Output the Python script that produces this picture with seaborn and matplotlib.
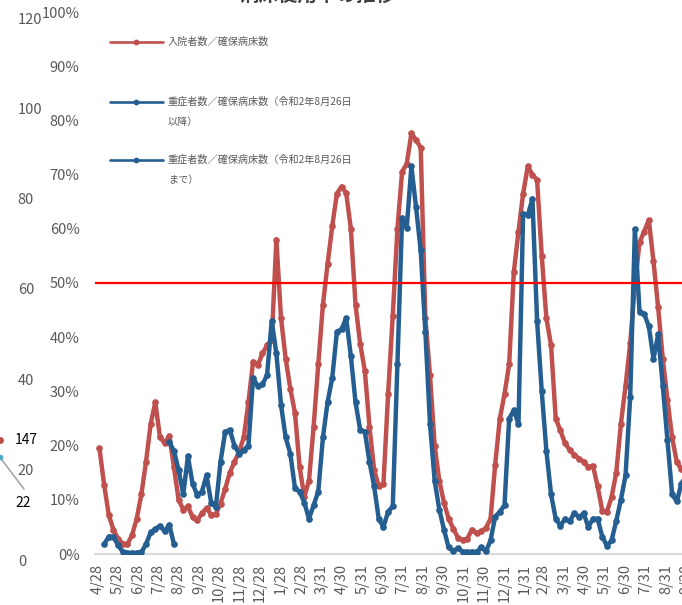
import pandas as pd
import matplotlib.pyplot as plt
from matplotlib.lines import Line2D
import seaborn as sns

# weekly values (%)
inpatient_start = "2020-05-01"
inpatient = [19.5, 12.8, 7.2, 4.5, 2.8, 1.9, 1.8, 3.5, 6.5, 11.0,
             17.0, 24.0, 28.0, 21.5, 20.5, 21.8, 16.0, 10.0, 8.2, 8.8,
             6.8, 6.2, 7.5, 8.5, 7.2, 7.4, 9.3, 12.0, 15.0, 17.0,
             18.9, 21.5, 28.0, 35.5, 34.8, 37.0, 38.5, 39.5, 58.0, 43.5,
             36.0, 30.5, 26.0, 16.0, 10.6, 13.5, 23.5, 35.0, 46.0, 53.5,
             60.5, 66.5, 67.8, 66.6, 60.0, 46.0, 38.8, 33.8, 23.5, 15.5,
             12.5, 13.0, 29.5, 44.0, 60.0, 70.5, 72.0, 77.6, 76.4, 75.0,
             43.5, 33.0, 20.0, 13.5, 9.5, 6.5, 4.7, 3.0, 2.6, 2.8,
             4.5, 3.8, 4.2, 4.8, 6.5, 16.5, 25.0, 29.5, 35.0, 52.0,
             59.5, 66.5, 71.5, 70.0, 69.0, 55.0, 43.5, 38.5, 25.0, 22.8,
             20.4, 19.2, 18.3, 17.6, 17.0, 16.0, 16.3, 12.5, 8.0, 7.8,
             10.5, 15.0, 24.0, 31.0, 38.9, 49.5, 57.5, 59.5, 61.6, 54.0,
             45.5, 36.0, 28.5, 21.5, 17.0, 15.6, 15.0]

severe_early_start = "2020-05-08"
severe_early = [1.8, 3.2, 3.2, 1.6, 0.4, 0.2, 0.2, 0.2, 0.3, 1.8,
                4.0, 4.6, 5.2, 4.2, 5.4, 1.8]

severe_late_start = "2020-08-14"
severe_late = [20.7, 19.0, 15.5, 11.0, 18.0, 13.0, 10.9, 11.5, 14.5, 9.5,
               8.7, 17.0, 22.5, 22.9, 20.0, 18.5, 19.2, 20.0, 32.5, 31.0,
               31.3, 33.0, 43.0, 37.0, 27.5, 21.5, 18.5, 12.1, 11.5, 9.5,
               6.5, 9.0, 11.5, 21.5, 28.0, 32.5, 41.0, 41.5, 43.5, 36.5,
               28.0, 22.9, 22.6, 17.0, 12.5, 6.4, 5.0, 7.8, 8.8, 35.0,
               62.0, 60.2, 71.5, 64.0, 56.0, 41.0, 24.0, 13.5, 8.2, 4.5,
               1.2, 0.6, 1.1, 0.4, 0.4, 0.4, 0.4, 1.2, 0.5, 2.5,
               6.9, 7.8, 9.0, 25.0, 26.5, 24.0, 62.8, 62.5, 65.5, 43.0,
               30.0, 19.0, 11.0, 6.5, 5.2, 6.5, 6.0, 7.6, 6.8, 7.5,
               5.0, 6.5, 6.5, 3.2, 1.5, 2.5, 6.1, 10.0, 14.5, 29.0,
               59.9, 44.7, 44.3, 42.0, 36.0, 40.5, 31.0, 21.0, 11.0, 9.7,
               13.0, 14.5]

tick_dates = ["2020-04-28", "2020-05-28", "2020-06-28", "2020-07-28", "2020-08-28",
              "2020-09-28", "2020-10-28", "2020-11-28", "2020-12-28", "2021-01-28",
              "2021-02-28", "2021-03-31", "2021-04-30", "2021-05-31", "2021-06-30",
              "2021-07-31", "2021-08-31", "2021-09-30", "2021-10-31", "2021-11-30",
              "2021-12-31", "2022-01-31", "2022-02-28", "2022-03-31", "2022-04-30",
              "2022-05-31", "2022-06-30", "2022-07-31", "2022-08-31", "2022-09-30"]

legend_labels = ["入院者数／確保病床数",
                 "重症者数／確保病床数（令和2年8月26日\n以降）",
                 "重症者数／確保病床数（令和2年8月26日\nまで）"]

ghost_ticks = [0, 20, 40, 60, 80, 100, 120]

RED = "#C0504D"
BLUE = "#255E91"
GREY = "#595959"

sns.set_style("white")
plt.rcParams['font.family'] = ['Noto Sans CJK JP', 'DejaVu Sans']

fig = plt.figure(figsize=(6.82, 6.05), dpi=100)
ax = fig.add_axes([94.8 / 682, 51 / 605, 594.6 / 682, 542 / 605])


def weekly(start, vals):
    return pd.DataFrame({"date": pd.date_range(start, periods=len(vals), freq="7D"),
                         "pct": vals})


line_kw = dict(lw=3.2, marker="o", markersize=4.8, markeredgewidth=0)
sns.lineplot(data=weekly(inpatient_start, inpatient), x="date", y="pct", ax=ax,
             color=RED, zorder=2, **line_kw)
sns.lineplot(data=weekly(severe_early_start, severe_early), x="date", y="pct", ax=ax,
             color=BLUE, zorder=3, **line_kw)
sns.lineplot(data=weekly(severe_late_start, severe_late), x="date", y="pct", ax=ax,
             color=BLUE, zorder=3, **line_kw)

ax.axhline(50, color="#FF0000", lw=1.6, zorder=5)

ax.set_ylim(0, 100)
ax.set_yticks(range(0, 101, 10))
ax.set_yticklabels([f"{t}%" for t in range(0, 101, 10)])
ax.set_xlim(pd.Timestamp("2020-04-24"), pd.Timestamp("2022-10-05"))
td = pd.to_datetime(tick_dates)
ax.set_xticks(td)
ax.set_xticklabels([f"{d.month}/{d.day}" for d in td], rotation=90)
ax.set_xlabel("")
ax.set_ylabel("")
ax.tick_params(axis="y", length=0, pad=11, labelsize=10.5, labelcolor=GREY)
ax.tick_params(axis="x", length=0, pad=7, labelsize=10.5, labelcolor=GREY)
for s in ["top", "right", "left"]:
    ax.spines[s].set_visible(False)
ax.spines["bottom"].set_color("#D9D9D9")
ax.spines["bottom"].set_linewidth(1.5)

# legend, drawn by hand so the handle sits on the first text line
rows = [0.9446, 0.834, 0.727]
colors = [RED, BLUE, BLUE]
for y, c, lab in zip(rows, colors, legend_labels):
    ax.plot([0.0256, 0.1147], [y, y], transform=ax.transAxes, color=c, lw=1.9,
            clip_on=False, zorder=6)
    ax.plot([0.070], [y], transform=ax.transAxes, color=c, marker="o",
            markersize=4.2, markeredgewidth=0, zorder=6)
    for k, part in enumerate(lab.split("\n")):
        ax.text(0.123, y - k * 0.037, part, transform=ax.transAxes, va="center",
                ha="left", fontsize=7.3, color=GREY)

# remains of the neighbouring chart on the left
gax = fig.add_axes([0, 45 / 605, 15 / 682, 542 / 605])
gax.set_ylim(0, 120)
gax.set_yticks(ghost_ticks)
gax.yaxis.tick_right()
gax.tick_params(axis="y", length=0, pad=2, labelsize=10.5, labelcolor=GREY)
gax.set_xticks([])
gax.patch.set_visible(False)
for s in gax.spines.values():
    s.set_visible(False)

fig.text(15 / 682, 1 - 440 / 605, "147", fontsize=10, color="black", va="center")
fig.text(15 / 682, 1 - 503 / 605, "22", fontsize=10, color="black", va="center")
fig.add_artist(Line2D([2 / 682, 24 / 682], [1 - 460 / 605, 1 - 489 / 605],
                      color="#A6A6A6", lw=1.2))
fig.add_artist(Line2D([0], [1 - 440 / 605], marker="o", color=RED, markersize=4))
fig.add_artist(Line2D([0], [1 - 457 / 605], marker="o", color="#4BACC6", markersize=3))

# title, mostly cut off by the crop
fig.text(318 / 682, 1 - 5 / 605, "病床使用率の推移", fontsize=14, weight="bold",
         color="#404040", ha="center", va="bottom")

fig.savefig("out.png", dpi=100)
